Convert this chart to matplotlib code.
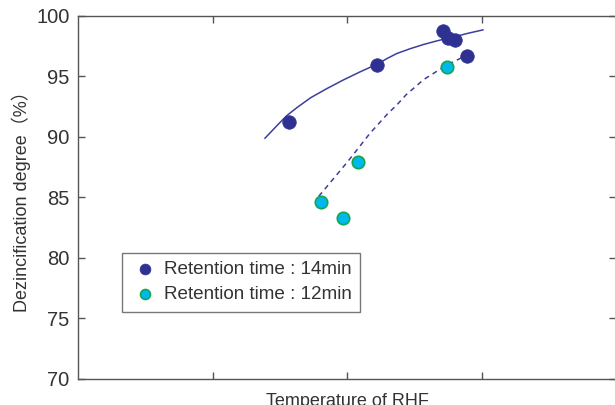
import matplotlib.pyplot as plt

# measured points, retention time 14 min
t14_x = [1.57, 2.22, 2.71, 2.75, 2.80, 2.89]
t14_y = [91.2, 95.95, 98.8, 98.2, 98.0, 96.7]
# measured points, retention time 12 min
t12_x = [1.81, 1.97, 2.08, 2.74]
t12_y = [84.6, 83.3, 87.95, 95.8]

# trend lines
fit14_x = [1.39, 1.48, 1.55, 1.63, 1.73, 1.85, 1.97, 2.10, 2.22, 2.30,
           2.37, 2.47, 2.57, 2.67, 2.82, 2.91, 3.01]
fit14_y = [89.9, 90.95, 91.75, 92.45, 93.25, 94.0, 94.7, 95.4, 96.0, 96.5,
           96.9, 97.3, 97.65, 97.95, 98.35, 98.6, 98.85]
fit12_x = [1.79, 1.91, 2.00, 2.05, 2.17, 2.30, 2.37, 2.44, 2.57, 2.67,
           2.77, 2.87]
fit12_y = [85.1, 86.7, 87.9, 88.6, 90.3, 91.9, 92.65, 93.5, 94.75, 95.45,
           96.1, 96.65]

yticks = [70, 75, 80, 85, 90, 95, 100]

plt.rcParams['font.family'] = ['Liberation Sans', 'Noto Sans CJK SC']
text_col = '#333333'
blue = '#2e3192'
cyan = '#00b9ec'

fig = plt.figure(figsize=(6.15, 4.05), dpi=100)
ax = fig.add_axes([0.1268, 0.0642, 0.875, 0.8963])

ax.plot(fit14_x, fit14_y, '-', color='#3b3f9c', lw=1.1, zorder=2)
ax.plot(fit12_x, fit12_y, '--', color='#3b3f9c', lw=1.1, dashes=(3.3, 2.8), zorder=2)

ax.scatter(t14_x, t14_y, s=95, color=blue, edgecolors=blue, linewidths=0.5,
           zorder=3, label='Retention time : 14min')
ax.scatter(t12_x, t12_y, s=80, color=cyan, edgecolors='#12a650', linewidths=1.2,
           zorder=3, label='Retention time : 12min')

ax.set_xlim(0, 4)
ax.set_ylim(70, 100)
ax.set_xticks([1, 2, 3])
ax.set_xticklabels([])
ax.set_yticks(yticks)
ax.tick_params(direction='in', length=5, width=1, colors='#555555',
               labelcolor=text_col, labelsize=14.5, top=True, right=True, pad=6)
for s in ax.spines.values():
    s.set_color('#555555')
    s.set_linewidth(1)

ax.set_xlabel('Temperature of RHF', fontsize=13, color=text_col, labelpad=4)
ax.set_ylabel('Dezincification degree（%）', fontsize=13, color=text_col, labelpad=4)

leg = ax.legend(loc='upper left', bbox_to_anchor=(0.0823, 0.348), frameon=True,
                fancybox=False, fontsize=13.6, handletextpad=0.25, borderpad=0.45,
                labelspacing=0.4, markerscale=0.8, handlelength=1.5,
                borderaxespad=0)
leg.get_frame().set_edgecolor('#555555')
leg.get_frame().set_linewidth(1)
for t in leg.get_texts():
    t.set_color(text_col)

plt.savefig('out.png', dpi=100)
